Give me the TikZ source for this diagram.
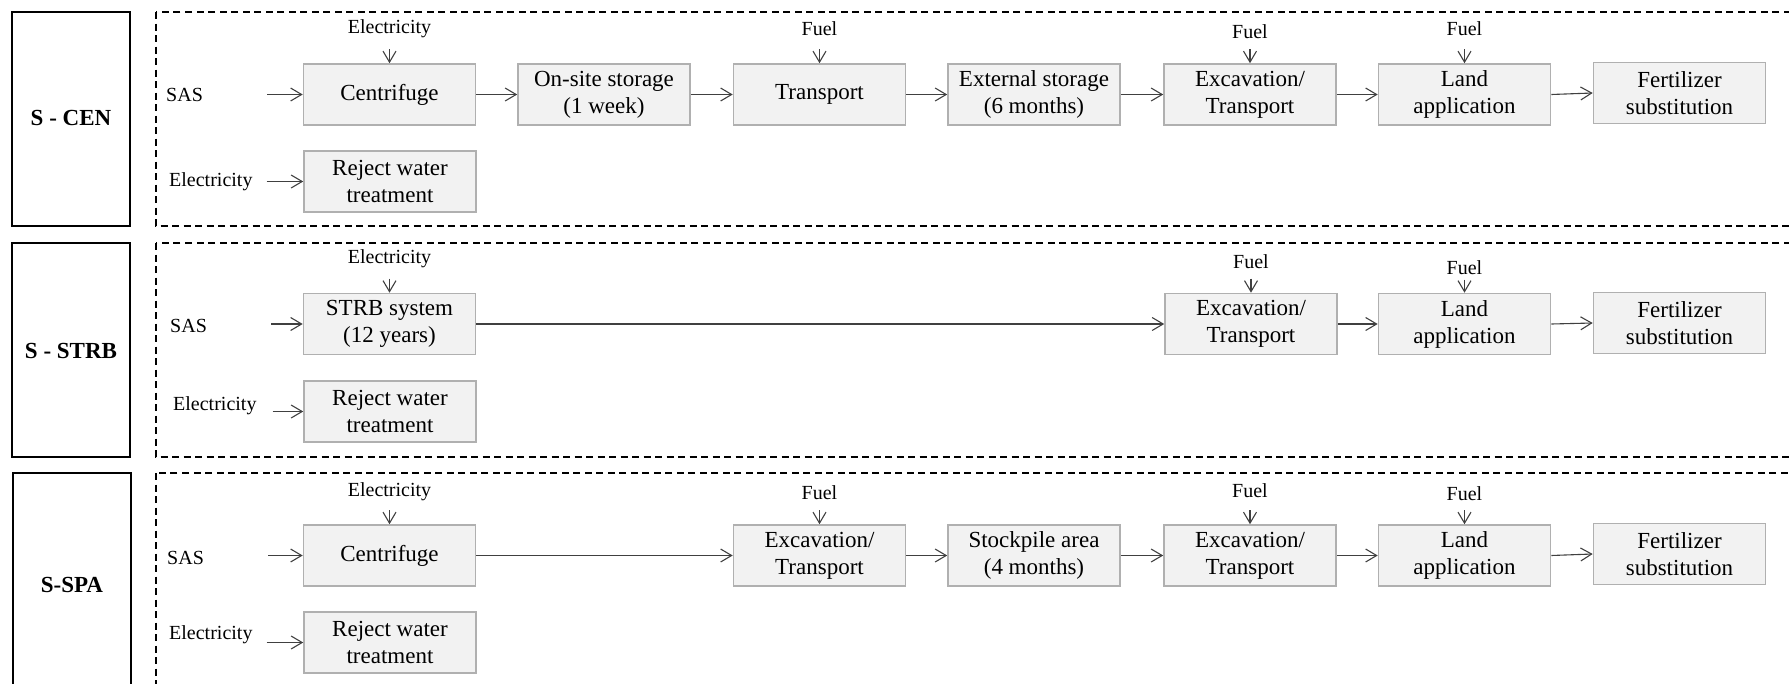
\documentclass[tikz,border=0pt]{standalone}
\usepackage{fontspec}
\setmainfont{Liberation Serif}
\usetikzlibrary{arrows.meta,positioning}
\definecolor{boxfill}{HTML}{F2F2F2}
\definecolor{boxline}{HTML}{B0B0B0}
\definecolor{arr}{HTML}{404040}
\begin{document}
\begin{tikzpicture}[x=1pt,y=-1pt,
  proc/.style={draw=boxline, fill=boxfill, line width=1.6pt, minimum width=172pt, minimum height=61pt, align=center, inner sep=2pt, font=\fontsize{23}{27}\selectfont, execute at begin node={\vspace*{5pt}}},
  lbl/.style={inner sep=1pt, font=\fontsize{20}{24}\selectfont},
  sidebox/.style={draw=black, line width=1.5pt},
  dbox/.style={draw=black, line width=1.3pt, dash pattern=on 7pt off 4.5pt},
  flow/.style={draw=arr, line width=1.1pt, -{Straight Barb[length=11pt,width=13pt]}},
  inflow/.style={flow, shorten <=10pt},
  ptitle/.style={inner sep=1pt, font=\fontsize{23}{27}\selectfont\bfseries}
]
\clip (0,0) rectangle (1789,683);
% ---------------- panel 1 ----------------
\draw[sidebox] (12,12) rectangle (130,226);
\draw[dbox] (156,12) rectangle (1800,226);
\node[ptitle] (t1) at (71,118) {S - CEN};
\node[proc] (cen1) at (389.5,94.5) {Centrifuge};
\node[proc] (ons1) at (604,94.5) {On-site storage\\(1 week)};
\node[proc] (tr1) at (819.5,94.5) {Transport};
\node[proc] (ext1) at (1034,94.5) {External storage\\(6 months)};
\node[proc] (exc1) at (1250,94.5) {Excavation/\\Transport};
\node[proc] (land1) at (1464.5,94.5) {Land\\application};
\node[proc] (fert1) at (1679.5,93) {Fertilizer\\substitution};
\node[proc] (rej1) at (390,181.5) {Reject water\\treatment};
\node[lbl, anchor=west] (sas1) at (165,95) {SAS};
\node[lbl, anchor=west] (el1) at (168,182) {Electricity};
\node[lbl, above=24pt of cen1] (ec1) {Electricity};
\node[lbl, above=26pt of tr1] (ft1) {Fuel};
\node[lbl, above=23pt of exc1] (fe1) {Fuel};
\node[lbl, above=26pt of land1] (fl1) {Fuel};
\draw[flow, shorten <=63pt] (sas1.east |- cen1.west) -- (cen1.west);
\draw[flow, shorten <=13pt] (el1.east |- rej1.west) -- (rej1.west);
\draw[inflow] (ec1.south) -- (cen1.north);
\draw[inflow, shorten <=12pt] (ft1.south) -- (tr1.north);
\draw[inflow, shorten <=9pt] (fe1.south) -- (exc1.north);
\draw[inflow, shorten <=12pt] (fl1.south) -- (land1.north);
\draw[flow] (cen1) -- (ons1);
\draw[flow] (ons1) -- (tr1);
\draw[flow] (tr1) -- (ext1);
\draw[flow] (ext1) -- (exc1);
\draw[flow] (exc1) -- (land1);
\draw[flow] (land1.east) -- (fert1.west);
% ---------------- panel 2 ----------------
\draw[sidebox] (12,243) rectangle (130,457);
\draw[dbox] (156,243) rectangle (1800,457);
\node[ptitle] (t2) at (71,351) {S - STRB};
\node[proc] (strb2) at (389.5,324) {STRB system\\(12 years)};
\node[proc] (exc2) at (1251,324) {Excavation/\\Transport};
\node[proc] (land2) at (1464.5,324) {Land\\application};
\node[proc] (fert2) at (1679.5,323) {Fertilizer\\substitution};
\node[proc] (rej2) at (390,411.5) {Reject water\\treatment};
\node[lbl, anchor=west] (sas2) at (169,326) {SAS};
\node[lbl, anchor=west] (el2) at (172,406) {Electricity};
\node[lbl, above=24pt of strb2] (ec2) {Electricity};
\node[lbl, above=23pt of exc2] (fe2) {Fuel};
\node[lbl, above=17pt of land2] (fl2) {Fuel};
\draw[flow, shorten <=63pt] (sas2.east |- strb2.west) -- (strb2.west);
\draw[flow, shorten <=15pt] (el2.east |- rej2.west) -- (rej2.west);
\draw[inflow] (ec2.south) -- (strb2.north);
\draw[inflow, shorten <=9pt] (fe2.south) -- (exc2.north);
\draw[inflow, shorten <=4pt] (fl2.south) -- (land2.north);
\draw[flow] (strb2) -- (exc2);
\draw[flow] (exc2) -- (land2);
\draw[flow] (land2.east) -- (fert2.west);
% ---------------- panel 3 ----------------
\draw[sidebox] (13,473) rectangle (131,720);
\draw[dbox] (156,473) rectangle (1800,720);
\node[ptitle] (t3) at (72,585) {S-SPA};
\node[proc] (cen3) at (389.5,555.5) {Centrifuge};
\node[proc] (exa3) at (819.5,555.5) {Excavation/\\Transport};
\node[proc] (stk3) at (1034,555.5) {Stockpile area\\(4 months)};
\node[proc] (exc3) at (1250,555.5) {Excavation/\\Transport};
\node[proc] (land3) at (1464.5,555.5) {Land\\application};
\node[proc] (fert3) at (1679.5,554) {Fertilizer\\substitution};
\node[proc] (rej3) at (390,642.5) {Reject water\\treatment};
\node[lbl, anchor=west] (sas3) at (166,558) {SAS};
\node[lbl, anchor=west] (el3) at (168,635) {Electricity};
\node[lbl, above=22pt of cen3] (ec3) {Electricity};
\node[lbl, above=23pt of exa3] (fa3) {Fuel};
\node[lbl, above=25pt of exc3] (fe3) {Fuel};
\node[lbl, above=22pt of land3] (fl3) {Fuel};
\draw[flow, shorten <=63pt] (sas3.east |- cen3.west) -- (cen3.west);
\draw[flow, shorten <=13pt] (el3.east |- rej3.west) -- (rej3.west);
\draw[inflow, shorten <=8pt] (ec3.south) -- (cen3.north);
\draw[inflow, shorten <=9pt] (fa3.south) -- (exa3.north);
\draw[inflow, shorten <=11pt] (fe3.south) -- (exc3.north);
\draw[inflow, shorten <=8pt] (fl3.south) -- (land3.north);
\draw[flow] (cen3) -- (exa3);
\draw[flow] (exa3) -- (stk3);
\draw[flow] (stk3) -- (exc3);
\draw[flow] (exc3) -- (land3);
\draw[flow] (land3.east) -- (fert3.west);
\end{tikzpicture}
\end{document}
